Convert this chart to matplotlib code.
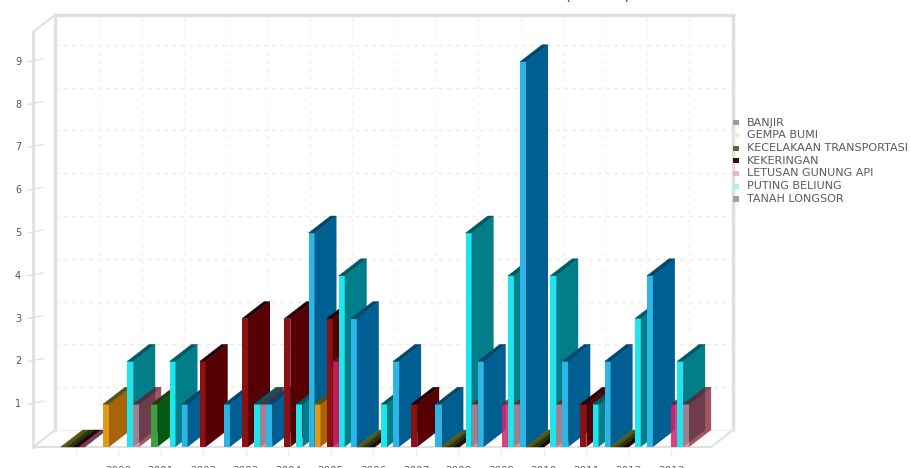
import matplotlib
matplotlib.use('Agg')
import matplotlib.pyplot as plt
from matplotlib.patches import Polygon

# Kejadian bencana per tahun; None = tidak ada batang
tahun = ['', '2000', '2001', '2002', '2003', '2004', '2005', '2006',
         '2007', '2008', '2009', '2010', '2011', '2012', '2013']

legenda = ['BANJIR', 'GEMPA BUMI', 'KECELAKAAN TRANSPORTASI', 'KEKERINGAN',
           'LETUSAN GUNUNG API', 'PUTING BELIUNG', 'TANAH LONGSOR']

gempa_bumi = [0, 1, None, None, None, None, 1, 0, None, 0, None, 0, None, 0, None]
kecelakaan = [0, None, 1, None, None, None, None, 0, None, 0, None, 0, None, 0, None]
kekeringan = [0, None, None, 2, 3, 3, 3, 0, 1, 0, None, 0, 1, 0, None]
letusan = [0, None, None, None, None, None, 2, None, None, None, 1, None, None, None, 1]
puting_beliung = [None, 2, 2, None, 1, 1, 4, 1, None, 5, 4, 4, 1, 3, 2]
tanah_longsor = [None, 1, None, None, 1, None, None, None, None, 1, 1, 1, None, None, 1]
banjir = [None, None, 1, 1, 1, 5, 3, 2, 1, 2, 9, 2, 2, 4, None]

nilai_y = [1, 2, 3, 4, 5, 6, 7, 8, 9]

# urutan batang dari kiri ke kanan dalam satu kategori
seri = [gempa_bumi, kecelakaan, kekeringan, letusan, puting_beliung, tanah_longsor, banjir]

# warna: depan, samping, atas
warna = [
    ('#e09a18', '#a86408', '#5c5210'),
    ('#3f9f45', '#045a12', '#1c3a10'),
    ('#8c1014', '#560003', '#2a0004'),
    ('#d8206a', '#a01050', '#5a2038'),
    ('#1fe6ee', '#007f8a', '#005a66'),
    ('#c87f92', '#8a2c3c', '#5e2230'),
    ('#2cb6e6', '#005f92', '#00486a'),
]
alpha_seri = [1, 1, 1, 0.85, 1, 0.8, 1]
warna_legenda = ['#8fa0ac', '#eeeec8', '#5e6a3c', '#301010', '#e8b4cc', '#a8f0f0', '#9aa2a8']

SKALA_X = 42.3   # piksel per kategori
SKALA_Y = 42.8   # piksel per satuan nilai
X_AWAL = 60.7    # piksel batang pertama
Y_DASAR = 447.0  # piksel garis nilai 0

dx = 22 / SKALA_X
dy = 17 / SKALA_Y
lebar = 6 / SKALA_X
slot = 6.05 / SKALA_X


def px_x(p):
    return (p - X_AWAL) / SKALA_X


def px_y(p):
    return (Y_DASAR - p) / SKALA_Y


fig = plt.figure(figsize=(9.1, 4.68), dpi=100, facecolor='white')
ax = fig.add_axes([0, 0, 1, 1])
ax.set_xlim(px_x(0), px_x(910))
ax.set_ylim(px_y(468), px_y(0))
ax.axis('off')

x_kiri = px_x(33)
x_kanan = px_x(711)
y_atas = px_y(32)

# garis bantu di dinding belakang
for v in nilai_y:
    ax.plot([x_kiri + dx, x_kanan + dx], [v + dy, v + dy], color='#ececec', lw=1,
            ls=(0, (3, 3)), zorder=1)
    ax.plot([x_kiri - 5 / SKALA_X, x_kiri + 10 / SKALA_X], [v, v + 3 / SKALA_Y],
            color='#e2e2e2', lw=1, zorder=1)
    ax.text(px_x(18), v, str(v), ha='center', va='center', fontsize=7, color='#555555')

for k in range(15):
    xk = px_x(100 + k * 42.05)
    ax.plot([xk, xk], [dy, y_atas + dy], color='#f0f0f0', lw=1, ls=(0, (2, 4)), zorder=1)

# rangka dinding
rangka = '#e0e0e0'
ax.plot([x_kiri, x_kiri], [0, y_atas], color=rangka, lw=2, zorder=2)
ax.plot([x_kiri + dx, x_kiri + dx], [dy, y_atas + dy], color=rangka, lw=2.5, zorder=2)
ax.plot([x_kiri, x_kiri + dx], [y_atas, y_atas + dy], color=rangka, lw=1.5, zorder=2)
ax.plot([x_kiri + dx, x_kanan + dx], [y_atas + dy, y_atas + dy], color=rangka, lw=2.5, zorder=2)
ax.plot([x_kanan + dx, x_kanan + dx], [dy, y_atas + dy], color=rangka, lw=2.5, zorder=2)
ax.plot([x_kiri, x_kanan], [0, 0], color=rangka, lw=1.5, zorder=2)
ax.plot([x_kiri, x_kiri + dx], [0, dy], color=rangka, lw=1.5, zorder=2)
ax.plot([x_kanan, x_kanan + dx], [0, dy], color=rangka, lw=1.5, zorder=2)
ax.plot([x_kiri + dx, x_kanan + dx], [dy, dy], color='#f0f0f0', lw=1, zorder=2)


def gambar_batang(x, v, warna_batang, alpha, z):
    depan, samping, atas = warna_batang
    if v > 0:
        ax.add_patch(Polygon([(x, 0), (x + lebar, 0), (x + lebar, v), (x, v)],
                             fc=depan, ec='none', alpha=alpha, zorder=z))
        ax.add_patch(Polygon([(x + lebar, 0), (x + lebar + dx, dy), (x + lebar + dx, v + dy),
                              (x + lebar, v)],
                             fc=samping, ec='none', alpha=alpha, zorder=z))
    ax.add_patch(Polygon([(x, v), (x + lebar, v), (x + lebar + dx, v + dy), (x + dx, v + dy)],
                         fc=atas, ec=atas, lw=0.3, alpha=alpha, zorder=z))


# batang digambar kiri ke kanan supaya yang kanan menutup yang kiri
z = 3
for k in range(len(tahun)):
    for j, data in enumerate(seri):
        if data[k] is None:
            continue
        gambar_batang(k + j * slot, data[k], warna[j], alpha_seri[j], z)
        z += 1

# label sumbu x, hanya bagian atasnya yang masuk kanvas
for k, t in enumerate(tahun):
    xt = px_x(75.5 + k * 42.55)
    ax.plot([xt, xt], [-3 / SKALA_Y, -9 / SKALA_Y], color='#ececec', lw=1, zorder=2)
    if t:
        ax.text(xt, px_y(466), t, ha='center', va='top', fontsize=7.5, color='#666666')

# judul, terpotong di tepi atas
ax.text(px_x(598), px_y(-0.5), '(2000-2013)', ha='center', va='baseline',
        fontsize=8.5, family='Liberation Sans', color='#222222')

# legenda
y_legenda = [122.7, 135.3, 148, 160.7, 173.5, 186.2, 199]
for nama, wl, yl in zip(legenda, warna_legenda, y_legenda):
    ax.add_patch(Polygon([(px_x(733), px_y(yl - 2.5)), (px_x(739), px_y(yl - 2.5)),
                          (px_x(739), px_y(yl + 2.5)), (px_x(733), px_y(yl + 2.5))],
                         fc=wl, ec='none', zorder=5))
    ax.text(px_x(747), px_y(yl), nama, ha='left', va='center', fontsize=8, color='#5a5a5a')

plt.savefig('out.png', dpi=100, facecolor='white')
plt.close()
